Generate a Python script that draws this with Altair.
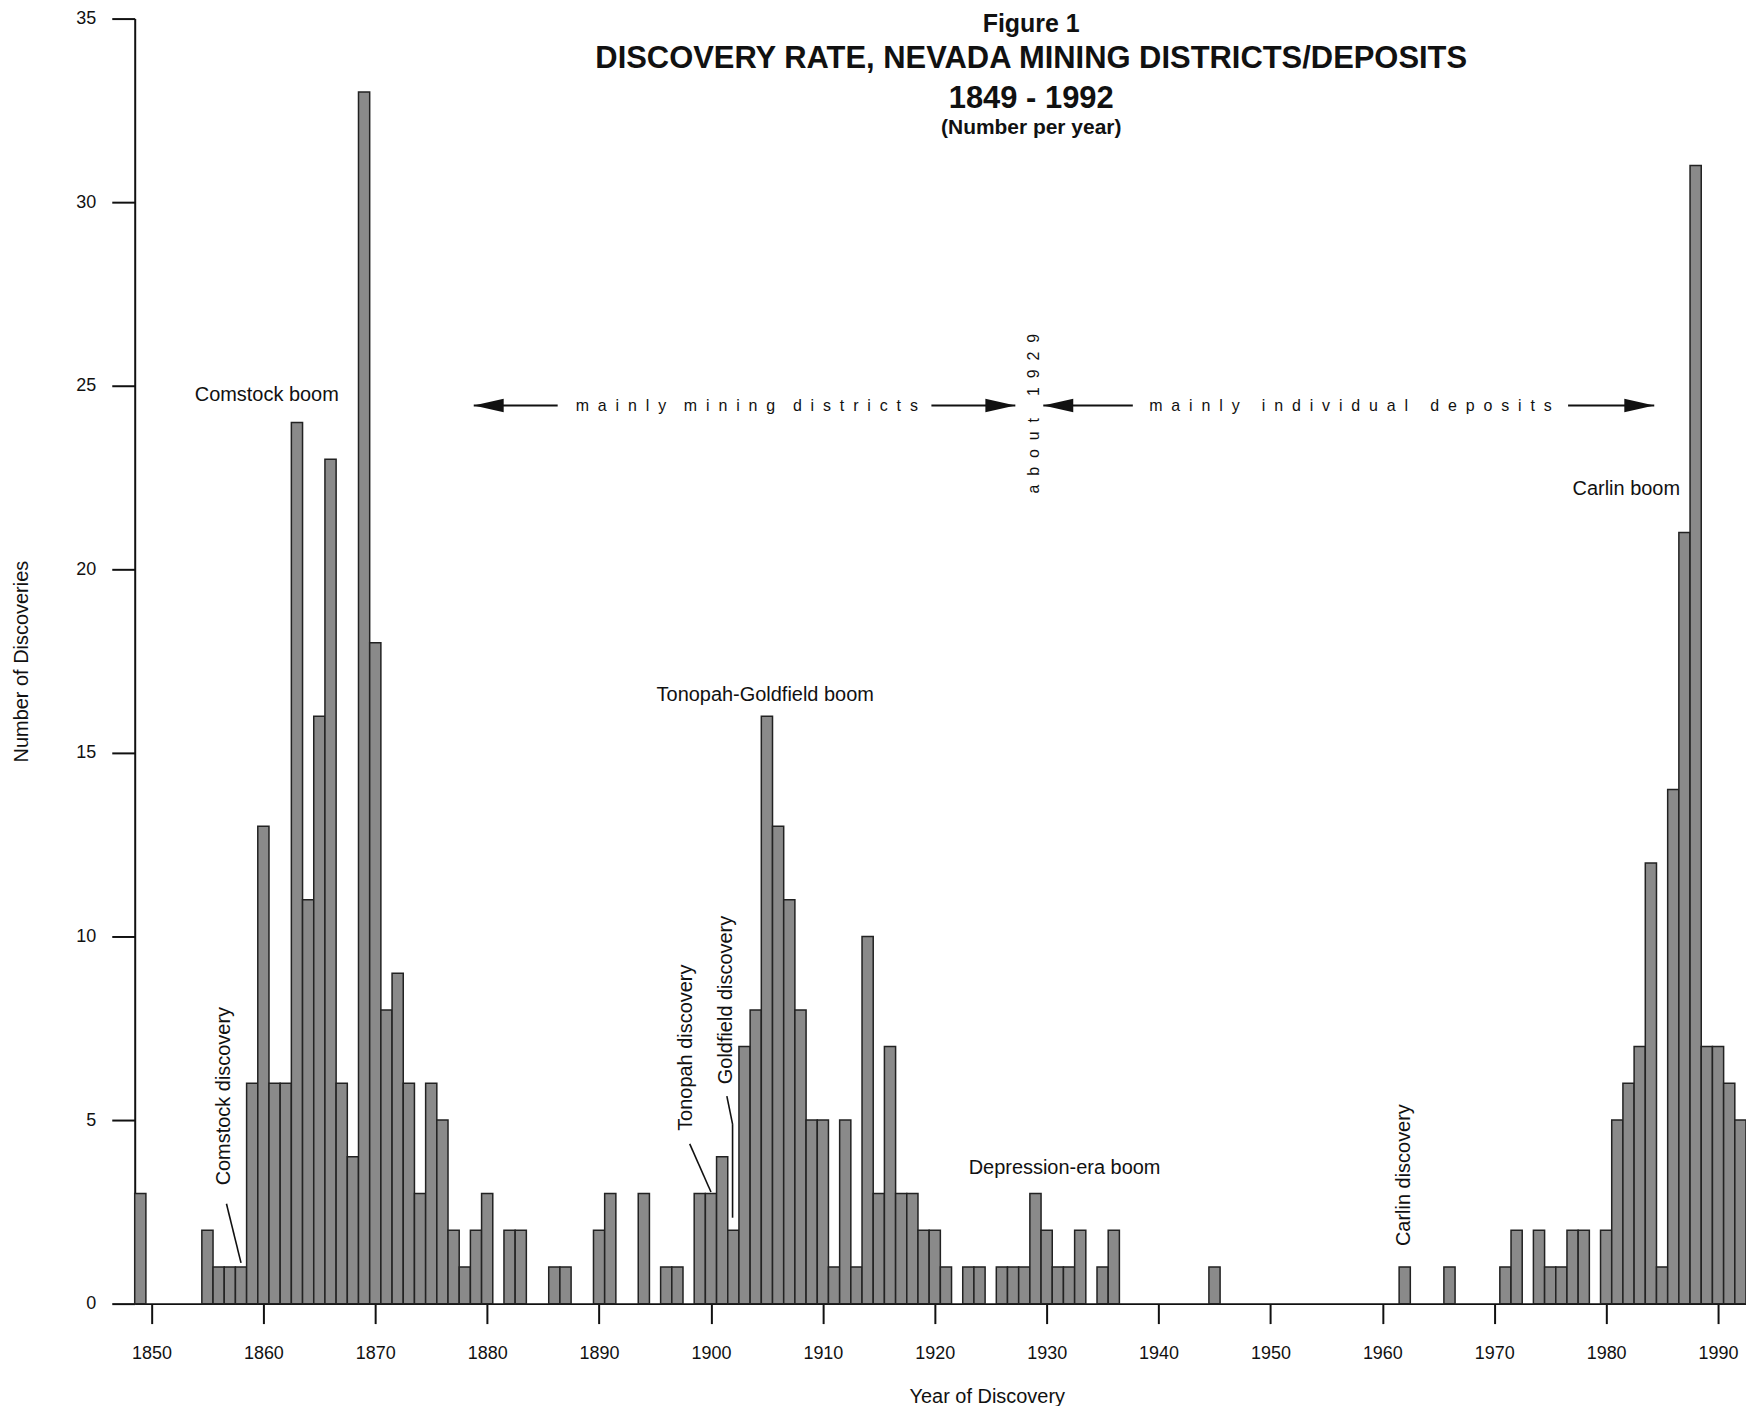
import altair as alt
import pandas as pd

# ---------------- data ----------------
years = list(range(1849, 1993))
counts = [3, 0, 0, 0, 0, 0, 2, 1, 1, 1,        # 1849-1858
          6, 13, 6, 6, 24, 11, 16, 23, 6, 4,   # 1859-1868
          33, 18, 8, 9, 6, 3, 6, 5, 2, 1,      # 1869-1878
          2, 3, 0, 2, 2, 0, 0, 1, 1, 0,        # 1879-1888
          0, 2, 3, 0, 0, 3, 0, 1, 1, 0,        # 1889-1898
          3, 3, 4, 2, 7, 8, 16, 13, 11, 8,     # 1899-1908
          5, 5, 1, 5, 1, 10, 3, 7, 3, 3,       # 1909-1918
          2, 2, 1, 0, 1, 1, 0, 1, 1, 1,        # 1919-1928
          3, 2, 1, 1, 2, 0, 1, 2, 0, 0,        # 1929-1938
          0, 0, 0, 0, 0, 0, 1, 0, 0, 0,        # 1939-1948
          0, 0, 0, 0, 0, 0, 0, 0, 0, 0,        # 1949-1958
          0, 0, 0, 1, 0, 0, 0, 1, 0, 0,        # 1959-1968
          0, 0, 1, 2, 0, 2, 1, 1, 2, 2,        # 1969-1978
          0, 2, 5, 6, 7, 12, 1, 14, 21, 31,    # 1979-1988
          7, 7, 6, 5]                          # 1989-1992

x_ticks = list(range(1850, 1991, 10))
y_ticks = list(range(0, 36, 5))

title_lines = ["Figure 1",
               "DISCOVERY RATE, NEVADA MINING DISTRICTS/DEPOSITS",
               "1849 - 1992",
               "(Number per year)"]
title_y = [34.85, 33.89, 32.82, 32.03]
title_size = [25, 31, 31, 21]
title_x = 1928.62

note_text = ["Comstock boom", "Comstock discovery", "Tonopah-Goldfield boom",
             "Tonopah discovery", "Goldfield discovery", "Depression-era boom",
             "Carlin discovery", "Carlin boom"]
note_x = [1860.3, 1856.45, 1904.85, 1897.8, 1901.3, 1931.6, 1961.9, 1981.8]
note_y = [24.76, 5.65, 16.58, 6.97, 8.27, 3.7, 3.5, 22.2]
note_angle = [0, 270, 0, 270, 270, 0, 270, 0]

lead_x = [1856.7, 1898.1, 1901.42, 1901.93]
lead_y = [2.72, 4.35, 5.65, 4.89]
lead_x2 = [1858.0, 1900.0, 1901.93, 1901.93]
lead_y2 = [1.11, 3.04, 4.89, 2.34]

arrow_y = 24.46
arrow_x = [1878.8, 1919.7, 1929.7, 1976.6]
arrow_x2 = [1886.3, 1927.2, 1937.7, 1984.3]
head_x = [1878.8, 1927.2, 1929.7, 1984.3]
head_dir = ["left", "right", "left", "right"]

NB = "\u00a0"


def spaced(s, gap=2, wgap=4):
    return (NB * wgap).join((NB * gap).join(list(w)) for w in s.split(" "))


span_text = [spaced("mainly mining districts"),
             spaced("mainly individual deposits", wgap=5),
             spaced("about 1929", wgap=5)]
span_x = [1903.2, 1957.15, 1928.9]
span_y = [24.46, 24.46, 24.24]
span_angle = [0, 0, 270]

# ---------------- tables ----------------
bars = pd.DataFrame({"year": years, "count": counts})
bars = bars[bars["count"] > 0].copy()
bars["x0"] = bars["year"] - 0.5
bars["x1"] = bars["year"] + 0.5

titles = pd.DataFrame({"text": title_lines, "y": title_y, "size": title_size})
titles["x"] = title_x
notes = pd.DataFrame({"text": note_text, "x": note_x, "y": note_y, "angle": note_angle})
spans = pd.DataFrame({"text": span_text, "x": span_x, "y": span_y, "angle": span_angle})
leads = pd.DataFrame({"x": lead_x, "y": lead_y, "x2": lead_x2, "y2": lead_y2})
arrows = pd.DataFrame({"x": arrow_x, "x2": arrow_x2})
arrows["y"] = arrow_y
shapes = {"left": "M0,0L2,-0.45L2,0.45Z", "right": "M0,0L-2,-0.45L-2,0.45Z"}
heads = pd.DataFrame({"x": head_x, "shape": [shapes[d] for d in head_dir]})
heads["y"] = arrow_y

FONT = "Liberation Sans"

xscale = alt.Scale(domain=[1848.5, 1992.5], nice=False, zero=False)
yscale = alt.Scale(domain=[0, 35], nice=False)

xaxis = alt.Axis(values=x_ticks, format="d", title="Year of Discovery",
                 grid=False, tickSize=20, tickWidth=2, domainWidth=2,
                 labelPadding=21, titlePadding=24, titleX=854,
                 labelFontSize=18, titleFontSize=20, titleFontWeight="normal")
yaxis = alt.Axis(values=y_ticks, title="Number of Discoveries", grid=False,
                 tickSize=23, tickWidth=2, domainWidth=2, labelPadding=16,
                 titlePadding=44, labelFontSize=18, titleFontSize=20,
                 titleFontWeight="normal")

bar_layer = alt.Chart(bars).mark_rect(
    fill="#8a8a8a", stroke="#222222", strokeWidth=1.5
).encode(
    x=alt.X("x0:Q", scale=xscale, axis=xaxis),
    x2="x1:Q",
    y=alt.Y("count:Q", scale=yscale, axis=yaxis),
    y2=alt.datum(0),
)

lead_layer = alt.Chart(leads).mark_rule(color="#111111", strokeWidth=1.6).encode(
    x=alt.X("x:Q", scale=xscale), x2="x2:Q",
    y=alt.Y("y:Q", scale=yscale), y2="y2:Q",
)

arrow_layer = alt.Chart(arrows).mark_rule(color="#111111", strokeWidth=2).encode(
    x=alt.X("x:Q", scale=xscale), x2="x2:Q",
    y=alt.Y("y:Q", scale=yscale),
)

head_layer = alt.Chart(heads).mark_point(
    filled=True, opacity=1, color="#111111", size=900, strokeWidth=0
).encode(
    x=alt.X("x:Q", scale=xscale),
    y=alt.Y("y:Q", scale=yscale),
    shape=alt.Shape("shape:N", scale=None, legend=None),
)

title_layer = alt.Chart(titles).mark_text(
    font=FONT, fontWeight="bold", color="#111111", align="center", baseline="middle"
).encode(
    x=alt.X("x:Q", scale=xscale),
    y=alt.Y("y:Q", scale=yscale),
    text="text:N",
    size=alt.Size("size:Q", scale=None, legend=None),
)

note_layer = alt.Chart(notes).mark_text(
    font=FONT, fontSize=20, color="#111111", align="center", baseline="middle"
).encode(
    x=alt.X("x:Q", scale=xscale),
    y=alt.Y("y:Q", scale=yscale),
    text="text:N",
    angle=alt.Angle("angle:Q", scale=None),
)

span_layer = alt.Chart(spans).mark_text(
    font=FONT, fontSize=16, color="#111111", align="center", baseline="middle"
).encode(
    x=alt.X("x:Q", scale=xscale),
    y=alt.Y("y:Q", scale=yscale),
    text="text:N",
    angle=alt.Angle("angle:Q", scale=None),
)

chart = alt.layer(
    bar_layer, lead_layer, arrow_layer, head_layer, title_layer, note_layer, span_layer
).properties(
    width=1615, height=1288,
    autosize=alt.AutoSizeParams(type="none"),
    padding={"left": 127, "top": 9, "right": 0, "bottom": 101},
    background="white",
).configure_view(stroke=None).configure_axis(
    labelFont=FONT, titleFont=FONT, labelColor="#111111", titleColor="#111111",
    domainColor="#111111", tickColor="#111111",
)

chart.save("out.html", embed_options={"renderer": "svg", "actions": False})
